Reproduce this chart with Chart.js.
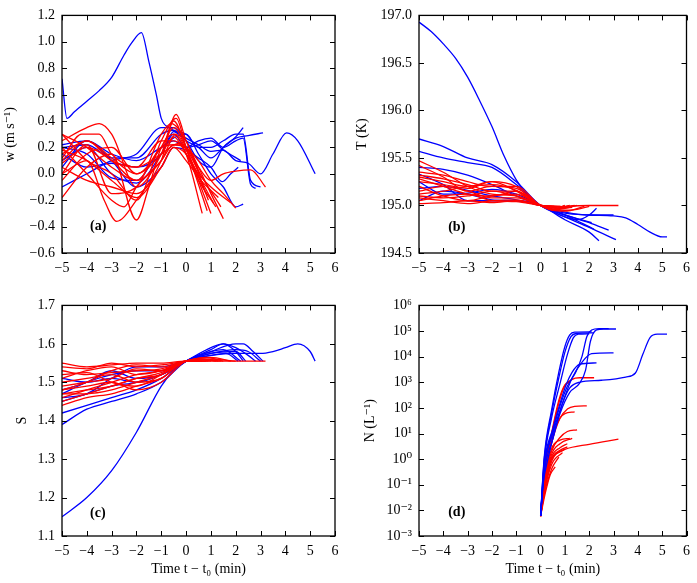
<!DOCTYPE html>
<html>
<head>
<meta charset="utf-8">
<script src="https://cdn.jsdelivr.net/npm/chart.js@4.4.1/dist/chart.umd.min.js"></script>
<style>
html, body { margin: 0; padding: 0; background: #fff; }
#fig { position: relative; width: 697px; height: 583px; overflow: hidden; }
canvas { position: absolute; }
</style>
</head>
<body>
<div id="fig">
  <canvas id="cw" width="348" height="290" style="left:0;top:0"></canvas>
  <canvas id="ct" width="349" height="290" style="left:348px;top:0"></canvas>
  <canvas id="cs" width="348" height="293" style="left:0;top:290px"></canvas>
  <canvas id="cn" width="349" height="293" style="left:348px;top:290px"></canvas>
</div>
<script>
// tick labels
var timeTicks = [-5, -4, -3, -2, -1, 0, 1, 2, 3, 4, 5, 6];
var wTicks = [-0.6, -0.4, -0.2, 0.0, 0.2, 0.4, 0.6, 0.8, 1.0, 1.2];
var tempTicks = [194.5, 195.0, 195.5, 196.0, 196.5, 197.0];
var satTicks = [1.1, 1.2, 1.3, 1.4, 1.5, 1.6, 1.7];
var numTicks = [1e-3, 1e-2, 1e-1, 1, 1e1, 1e2, 1e3, 1e4, 1e5, 1e6];

// (a) vertical velocity w, [time, value]
var wBlue = [
  [[-5,0.72],[-4.8,0.42],[-4.5,0.47],[-4,0.55],[-3.5,0.63],[-3,0.73],[-2.5,0.9],[-2.2,0.99],[-1.8,1.07],[-1.5,0.85],[-1.2,0.6],[-1,0.42],[-0.6,0.34],[0,0.27],[0.5,0.22],[1,0.17],[1.5,0.18],[2,0.1],[2.5,0.08],[3,0.0],[3.5,0.15],[4.05,0.31],[4.5,0.25],[5.2,0.0]],
  [[-5,0.2],[-4,0.22],[-3,0.12],[-2,0.12],[-1,0.3],[-0.5,0.33],[0,0.25],[0.5,0.2],[1,0.12],[1.5,0.2],[2,0.27],[2.5,0.29],[3.1,0.31]],
  [[-5,0.1],[-4,0.2],[-3,0.0],[-2,-0.07],[-1,0.15],[-0.5,0.3],[0,0.2],[0.5,0.25],[1,0.27],[1.5,0.2],[2,0.25],[2.3,0.27],[2.6,-0.08],[2.8,-0.11]],
  [[-5,0.15],[-4,0.05],[-3,0.08],[-2,0.05],[-1,0.15],[-0.5,0.32],[0,0.3],[0.5,0.2],[1,0.2],[1.5,0.25],[2,0.3],[2.3,0.3],[2.6,-0.05],[3.0,-0.1]],
  [[-5,-0.1],[-4,0.0],[-3,0.1],[-2,0.15],[-1,0.35],[-0.5,0.35],[0,0.25],[0.5,0.1],[1,0.05],[1.5,0.2],[2,0.28],[2.3,0.35]],
  [[-5,0.22],[-4,0.25],[-3,0.15],[-2,0.1],[-1,0.2],[-0.5,0.25],[0,0.2],[0.5,0.22],[1,0.25],[1.5,0.18],[2.2,0.1]],
  [[-5,0.2],[-4,0.15],[-3,-0.03],[-2,-0.05],[-1,0.2],[0,0.3],[0.5,0.15],[1,0.0],[1.5,-0.1],[2,-0.25],[2.3,-0.23]],
  [[-5,0.05],[-4,0.25],[-3,0.1],[-2,-0.1],[-1,0.05],[-0.5,0.2],[0,0.18],[0.5,0.12],[1,0.05],[1.45,-0.06],[1.8,0.0],[2.1,0.05]]
];
var wRed = [
  [[-5,0.3],[-4,0.2],[-3,0.05],[-2,-0.05],[-1,0.2],[-0.5,0.22],[0,0.2],[0.5,0.05],[1,-0.05],[1.5,0.0],[2,0.02],[2.6,0.03],[3.2,-0.1]],
  [[-5,0.15],[-4,0.25],[-3,0.1],[-2,0.05],[-1,0.25],[-0.5,0.25],[0,0.2],[0.5,0.1],[1,-0.05],[1.5,-0.15],[2.0,-0.26]],
  [[-5,0.0],[-4,0.1],[-3.3,-0.2],[-2.8,-0.36],[-2,-0.2],[-1,0.1],[-0.4,0.45],[0,0.25],[0.5,0.05],[1,-0.15],[1.5,-0.34]],
  [[-5,0.25],[-4,0.35],[-3.5,0.38],[-3,0.3],[-2,-0.1],[-1,0.15],[-0.5,0.4],[0,0.2],[0.5,-0.05],[1.0,-0.3]],
  [[-5,-0.18],[-4,0.05],[-3,0.15],[-2,-0.35],[-1.5,-0.1],[-1,0.2],[-0.5,0.3],[0,0.15],[0.65,-0.3]],
  [[-5,0.3],[-4.5,0.2],[-4,0.1],[-3,0.0],[-2,-0.2],[-1,0.25],[-0.4,0.42],[0,0.2],[0.85,-0.28]],
  [[-5,0.1],[-4,0.25],[-3,0.12],[-2,0.0],[-1,0.15],[-0.5,0.28],[0,0.15],[0.5,-0.05],[1.2,-0.25]],
  [[-5,0.05],[-4,-0.05],[-3,-0.1],[-2,-0.15],[-1,0.05],[-0.5,0.2],[0,0.15],[0.5,0.0],[1,-0.1],[1.8,-0.22]],
  [[-5,-0.05],[-4,0.15],[-3,0.2],[-2,0.0],[-1,0.2],[-0.5,0.35],[0,0.2],[0.5,0.02],[1.4,-0.25]],
  [[-5,0.2],[-4,0.0],[-3,-0.2],[-2.5,-0.25],[-2,-0.1],[-1,0.1],[-0.5,0.22],[0,0.2],[0.9,-0.2]],
  [[-5,0.12],[-4.2,0.3],[-3.5,0.3],[-3,0.15],[-2,0.05],[-1,0.15],[-0.3,0.23],[0,0.15],[1.1,-0.22]],
  [[-5,0.08],[-4,0.2],[-3,0.1],[-2,-0.05],[-1,0.1],[-0.4,0.3],[0,0.18],[0.8,-0.15]],
  [[-5,0.18],[-4,0.1],[-3,-0.05],[-2,-0.18],[-1,0.05],[-0.5,0.2],[0,0.1],[0.6,-0.05],[1.3,-0.18]],
  [[-5,0.0],[-4,0.22],[-3,-0.15],[-2,-0.1],[-1,0.3],[-0.6,0.38],[0,0.25],[0.55,0.0]]
];

// (b) temperature T (K)
var tempBlue = [
  [[-5,196.93],[-4.5,196.83],[-4,196.7],[-3.5,196.55],[-3,196.35],[-2.5,196.1],[-2,195.83],[-1.5,195.52],[-1,195.27],[-0.5,195.1],[0,195.0],[1,194.92],[2,194.9],[3,194.89],[3.5,194.87],[4,194.8],[4.5,194.72],[5,194.67],[5.2,194.67]],
  [[-5,195.7],[-4,195.62],[-3,195.5],[-2,195.43],[-1,195.25],[0,195.0],[1,194.88],[2,194.77],[3.1,194.64]],
  [[-5,195.57],[-4,195.5],[-3,195.45],[-2,195.4],[-1,195.22],[0,195.0],[1,194.9],[2,194.82],[2.8,194.74]],
  [[-5,195.4],[-4,195.38],[-3,195.32],[-2,195.22],[-1,195.1],[0,195.0],[1,194.93],[2,194.9],[3.0,194.9]],
  [[-5,195.25],[-4,195.12],[-3,195.13],[-2,195.17],[-1,195.12],[0,195.0],[1,194.88],[1.5,194.85],[2,194.9],[2.3,194.97]],
  [[-5,195.18],[-4,195.2],[-3,195.16],[-2,195.1],[-1,195.06],[0,195.0],[1,194.9],[2.2,194.75]],
  [[-5,195.33],[-4,195.22],[-3,195.05],[-2,195.05],[-1,195.05],[0,195.0],[1,194.85],[2,194.72],[2.4,194.63]],
  [[-5,195.05],[-4,195.15],[-3,195.12],[-2,195.06],[-1,195.05],[0,195.0],[1,194.9],[2.1,194.82]]
];
var tempRed = [
  [[-5,195.3],[-4,195.25],[-3,195.2],[-2,195.25],[-1,195.15],[0,195.0],[0.5,194.98],[1,194.99],[2,195.0],[3.2,195.0]],
  [[-5,195.47],[-4,195.35],[-3,195.2],[-2,195.12],[-1,195.1],[0,195.0],[0.5,194.96],[1,194.95],[1.5,194.96],[2,194.99]],
  [[-5,195.42],[-4,195.3],[-3,195.15],[-2,195.2],[-1,195.18],[0,195.0],[0.5,194.95],[1,194.97],[1.5,195.0]],
  [[-5,195.35],[-4,195.32],[-3,195.25],[-2,195.2],[-1,195.2],[0,195.0],[0.5,194.96],[1,195.0]],
  [[-5,195.28],[-4,195.2],[-3,195.12],[-2,195.1],[-1,195.15],[0,195.0],[0.65,194.98]],
  [[-5,195.25],[-4,195.22],[-3,195.18],[-2,195.25],[-1,195.2],[0,195.0],[0.85,194.99]],
  [[-5,195.2],[-4,195.1],[-3,195.05],[-2,195.1],[-1,195.12],[0,195.0],[0.5,194.96],[1.2,195.0]],
  [[-5,195.15],[-4,195.2],[-3,195.15],[-2,195.08],[-1,195.08],[0,195.0],[0.5,194.95],[1,194.94],[1.8,194.99]],
  [[-5,195.1],[-4,195.08],[-3,195.1],[-2,195.15],[-1,195.1],[0,195.0],[0.5,194.96],[1.4,195.0]],
  [[-5,195.08],[-4,195.05],[-3,195.02],[-2,195.05],[-1,195.06],[0,195.0],[0.9,194.98]],
  [[-5,195.05],[-4,195.1],[-3,195.12],[-2,195.05],[-1,195.04],[0,195.0],[1.1,194.98]],
  [[-5,195.02],[-4,195.03],[-3,195.05],[-2,195.03],[-1,195.05],[0,195.0],[0.8,194.99]],
  [[-5,195.32],[-4,195.28],[-3,195.22],[-2,195.15],[-1,195.15],[0,195.0],[0.6,194.97],[1.3,194.98]],
  [[-5,195.12],[-4,195.15],[-3,195.2],[-2,195.22],[-1,195.16],[0,195.0],[0.55,194.99]]
];

// (c) saturation ratio S
var satBlue = [
  [[-5,1.15],[-4,1.2],[-3,1.27],[-2,1.37],[-1,1.49],[-0.5,1.53],[0,1.555],[1,1.57],[2,1.575],[3,1.575],[3.5,1.58],[4,1.59],[4.5,1.6],[5,1.58],[5.2,1.555]],
  [[-5,1.39],[-4,1.43],[-3,1.45],[-2,1.47],[-1,1.5],[0,1.555],[1,1.58],[2,1.6],[2.3,1.6],[2.7,1.58],[3.1,1.555]],
  [[-5,1.42],[-4,1.44],[-3,1.46],[-2,1.48],[-1,1.51],[0,1.555],[1,1.585],[1.5,1.6],[2,1.59],[2.5,1.57],[2.8,1.555]],
  [[-5,1.45],[-4,1.47],[-3,1.49],[-2,1.5],[-1,1.52],[0,1.555],[1,1.575],[2,1.585],[2.5,1.58],[3.0,1.555]],
  [[-5,1.51],[-4,1.5],[-3,1.51],[-2,1.5],[-1,1.52],[0,1.555],[1,1.59],[1.5,1.6],[2,1.58],[2.3,1.555]],
  [[-5,1.48],[-4,1.5],[-3,1.53],[-2,1.51],[-1,1.52],[0,1.555],[1,1.58],[1.5,1.585],[2.2,1.555]],
  [[-5,1.47],[-4,1.5],[-3,1.52],[-2,1.53],[-1,1.53],[0,1.555],[1,1.575],[2,1.58],[2.4,1.555]],
  [[-5,1.46],[-4,1.47],[-3,1.51],[-2,1.54],[-1,1.54],[0,1.555],[1,1.57],[1.6,1.575],[2.1,1.555]]
];
var satRed = [
  [[-5,1.55],[-4,1.54],[-3,1.545],[-2,1.55],[-1,1.55],[0,1.555],[1,1.555],[2,1.555],[3.2,1.555]],
  [[-5,1.54],[-4,1.535],[-3,1.55],[-2,1.54],[-1,1.545],[0,1.555],[1,1.56],[2,1.555]],
  [[-5,1.53],[-4,1.52],[-3,1.525],[-2,1.53],[-1,1.535],[0,1.555],[0.8,1.565],[1.5,1.555]],
  [[-5,1.52],[-4,1.525],[-3,1.5],[-2,1.49],[-1,1.52],[0,1.555],[0.5,1.56],[1,1.555]],
  [[-5,1.5],[-4,1.51],[-3,1.52],[-2,1.5],[-1,1.51],[0,1.555],[0.65,1.555]],
  [[-5,1.49],[-4,1.5],[-3,1.51],[-2,1.535],[-1,1.53],[0,1.555],[0.85,1.558]],
  [[-5,1.48],[-4,1.49],[-3,1.5],[-2,1.48],[-1,1.5],[0,1.555],[0.6,1.56],[1.2,1.555]],
  [[-5,1.47],[-4,1.48],[-3,1.49],[-2,1.51],[-1,1.52],[0,1.555],[1,1.565],[1.8,1.555]],
  [[-5,1.47],[-4,1.47],[-3,1.48],[-2,1.5],[-1,1.52],[0,1.555],[0.7,1.56],[1.4,1.555]],
  [[-5,1.46],[-4,1.48],[-3,1.5],[-2,1.52],[-1,1.53],[0,1.555],[0.9,1.555]],
  [[-5,1.45],[-4,1.47],[-3,1.49],[-2,1.51],[-1,1.525],[0,1.555],[1.1,1.56]],
  [[-5,1.44],[-4,1.46],[-3,1.47],[-2,1.49],[-1,1.51],[0,1.555],[0.8,1.555]],
  [[-5,1.51],[-4,1.53],[-3,1.54],[-2,1.52],[-1,1.53],[0,1.555],[0.6,1.56],[1.3,1.555]],
  [[-5,1.48],[-4,1.5],[-3,1.53],[-2,1.545],[-1,1.54],[0,1.555],[0.55,1.555]]
];

// (d) ice number concentration N (L^-1)
var numBlue = [
  [[0,0.006],[0.1,0.1],[0.3,1],[0.6,15],[0.9,150],[1.2,600],[1.6,1000],[2.5,1200],[3.5,1600],[3.9,2300],[4.2,12000],[4.5,55000],[4.8,75000],[5.2,75000]],
  [[0,0.006],[0.15,0.3],[0.5,6],[0.8,60],[1.2,400],[1.6,900],[1.85,3000],[2.05,40000],[2.3,110000],[2.6,120000],[3.1,120000]],
  [[0,0.006],[0.15,0.5],[0.5,12],[0.8,120],[1.1,700],[1.45,2500],[1.7,10000],[1.9,60000],[2.1,110000],[2.4,125000],[2.8,125000]],
  [[0,0.006],[0.15,0.4],[0.5,10],[0.9,150],[1.3,1500],[1.7,6000],[2.1,13000],[3.0,14000]],
  [[0,0.006],[0.15,0.6],[0.5,15],[0.8,150],[1.05,800],[1.3,2500],[1.6,5000],[2.3,5700]],
  [[0,0.006],[0.15,1],[0.45,60],[0.75,1500],[1.0,15000],[1.25,60000],[1.45,80000],[2.2,85000]],
  [[0,0.006],[0.15,0.8],[0.45,40],[0.8,900],[1.1,12000],[1.35,55000],[1.55,75000],[2.0,78000]],
  [[0,0.006],[0.15,1.2],[0.45,80],[0.75,2500],[1.0,25000],[1.2,70000],[1.4,90000],[2.1,92000]]
];
var numRed = [
  [[0,0.006],[0.1,0.06],[0.3,0.5],[0.6,1.5],[1,2.4],[2,3.8],[3.2,6]],
  [[0,0.006],[0.15,0.2],[0.4,5],[0.7,100],[0.95,600],[1.3,1300],[1.6,1500],[2.2,1500]],
  [[0,0.006],[0.15,0.15],[0.45,4],[0.8,40],[1.1,90],[1.4,115],[1.9,120]],
  [[0,0.006],[0.15,0.1],[0.45,2],[0.8,7],[1.1,12],[1.5,14]],
  [[0,0.006],[0.15,0.08],[0.45,1.5],[0.8,4],[1.3,6.5]],
  [[0,0.006],[0.15,0.07],[0.45,1.2],[0.8,2.8],[1.1,4]],
  [[0,0.006],[0.15,0.06],[0.45,1],[0.8,2.2],[1.1,3]],
  [[0,0.006],[0.15,0.05],[0.45,0.8],[1,2.5]],
  [[0,0.006],[0.15,0.05],[0.45,0.6],[0.9,1.8]],
  [[0,0.006],[0.2,0.05],[0.4,0.25],[0.6,0.5]],
  [[0,0.006],[0.15,0.25],[0.5,8],[0.8,40],[1.0,60],[1.4,70]],
  [[0,0.006],[0.15,0.12],[0.45,2.5],[0.8,5.5],[1.2,6.5]],
  [[0,0.006],[0.15,0.3],[0.45,10],[0.75,200],[1.0,800],[1.2,1000]],
  [[0,0.006],[0.15,0.04],[0.45,0.4],[0.75,1.2]]
];

var FONT = "'Liberation Serif', 'DejaVu Serif', serif";
var MINUS = '\u2212';
var SUP = {'0':'\u2070','1':'\u00b9','2':'\u00b2','3':'\u00b3','4':'\u2074','5':'\u2075','6':'\u2076','-':'\u207b'};

function fmt(v, dec) {
  var s = Math.abs(v).toFixed(dec);
  if (v < 0 && Number(s) !== 0) s = MINUS + s;
  return s;
}
function powLabel(v) {
  var e = String(Math.round(Math.log10(v)));
  return '10' + e.split('').map(function (c) { return SUP[c]; }).join('');
}

// box frame, inward ticks on all four sides and the panel letter
var frame = {
  id: 'frame',
  afterDraw: function (chart, args, opts) {
    var ctx = chart.ctx, a = chart.chartArea, sx = chart.scales.x, sy = chart.scales.y;
    ctx.save();
    ctx.strokeStyle = '#000';
    ctx.lineWidth = 1;
    ctx.beginPath();
    sx.ticks.forEach(function (t) {
      var p = Math.round(sx.getPixelForValue(t.value)) + 0.5;
      ctx.moveTo(p, a.bottom); ctx.lineTo(p, a.bottom - 5);
      ctx.moveTo(p, a.top); ctx.lineTo(p, a.top + 5);
    });
    sy.ticks.forEach(function (t) {
      var p = Math.round(sy.getPixelForValue(t.value)) + 0.5;
      ctx.moveTo(a.left, p); ctx.lineTo(a.left + 5, p);
      ctx.moveTo(a.right, p); ctx.lineTo(a.right - 5, p);
    });
    ctx.stroke();
    ctx.lineWidth = 1.3;
    ctx.strokeRect(a.left, a.top, a.right - a.left, a.bottom - a.top);
    ctx.fillStyle = '#000';
    ctx.font = 'bold 14px ' + FONT;
    ctx.textAlign = 'left';
    ctx.textBaseline = 'middle';
    ctx.fillText(opts.label, sx.getPixelForValue(opts.at[0]), sy.getPixelForValue(opts.at[1]));
    ctx.restore();
  }
};

function lines(series, color) {
  return series.map(function (s) {
    return {
      data: s.map(function (p) { return {x: p[0], y: p[1]}; }),
      borderColor: color,
      borderWidth: 1.3,
      pointRadius: 0,
      fill: false,
      cubicInterpolationMode: 'monotone'
    };
  });
}

function panel(id, c) {
  // first dataset is drawn on top
  var sets = c.blueOnTop ? lines(c.blue, '#0000ff').concat(lines(c.red, '#ff0000'))
                         : lines(c.red, '#ff0000').concat(lines(c.blue, '#0000ff'));
  var yScale = {
    type: c.yType,
    min: c.yMin,
    max: c.yMax,
    afterBuildTicks: function (s) { s.ticks = c.yTicks.map(function (v) { return {value: v}; }); },
    afterFit: function (s) { s.width = c.yW; },
    grid: {display: false, drawTicks: false},
    border: {display: false},
    ticks: {color: '#000', padding: 7, font: {family: FONT, size: 14}, callback: c.yFmt},
    title: {display: true, text: c.yTitle, color: '#000', padding: {top: c.yTitlePad, bottom: 0}, font: {family: FONT, size: 14}}
  };
  return new Chart(document.getElementById(id), {
    type: 'line',
    data: {datasets: sets},
    plugins: [frame],
    options: {
      responsive: false,
      devicePixelRatio: 1,
      animation: false,
      layout: {padding: {top: c.padTop, right: c.padRight, left: 0, bottom: 0}},
      plugins: {legend: {display: false}, tooltip: {enabled: false}, frame: {label: c.label, at: c.at}},
      scales: {
        x: {
          type: 'linear',
          min: -5,
          max: 6,
          afterBuildTicks: function (s) { s.ticks = timeTicks.map(function (v) { return {value: v}; }); },
          afterFit: function (s) { s.height = c.xH; },
          grid: {display: false, drawTicks: false},
          border: {display: false},
          ticks: {color: '#000', padding: 7, maxRotation: 0, font: {family: FONT, size: 14},
                  callback: function (v) { return fmt(v, 0); }},
          title: {display: !!c.xTitle, text: c.xTitle || '', color: '#000', padding: {top: 0, bottom: 5}, font: {family: FONT, size: 14}}
        },
        y: yScale
      }
    }
  });
}

var one = function (v) { return fmt(v, 1); };

panel('cw', {blue: wBlue, red: wRed, yType: 'linear', yMin: -0.6, yMax: 1.2, yTicks: wTicks, yFmt: one,
  yTitle: 'w (m s\u207b\u00b9)', yTitlePad: 2, yW: 62, xH: 37, padTop: 14, padRight: 13,
  label: '(a)', at: [-3.87, -0.4]});
panel('ct', {blue: tempBlue, red: tempRed, yType: 'linear', yMin: 194.5, yMax: 197, yTicks: tempTicks, yFmt: one,
  yTitle: 'T (K)', yTitlePad: 6, yW: 71, xH: 37, padTop: 14, padRight: 6,
  label: '(b)', at: [-3.8, 194.77]});
panel('cs', {blue: satBlue, red: satRed, yType: 'linear', yMin: 1.1, yMax: 1.7, yTicks: satTicks, yFmt: one,
  yTitle: 'S', yTitlePad: 14, yW: 62, xH: 47, padTop: 9, padRight: 13,
  xTitle: 'Time t \u2212 t\u2080 (min)', label: '(c)', at: [-3.87, 1.16]});
panel('cn', {blue: numBlue, red: numRed, yType: 'logarithmic', yMin: 1e-3, yMax: 1e6, yTicks: numTicks, yFmt: powLabel,
  yTitle: 'N (L\u207b\u00b9)', yTitlePad: 14, yW: 71, xH: 47, padTop: 9, padRight: 6,
  xTitle: 'Time t \u2212 t\u2080 (min)', label: '(d)', at: [-3.8, 0.0081], blueOnTop: true});
</script>
</body>
</html>
